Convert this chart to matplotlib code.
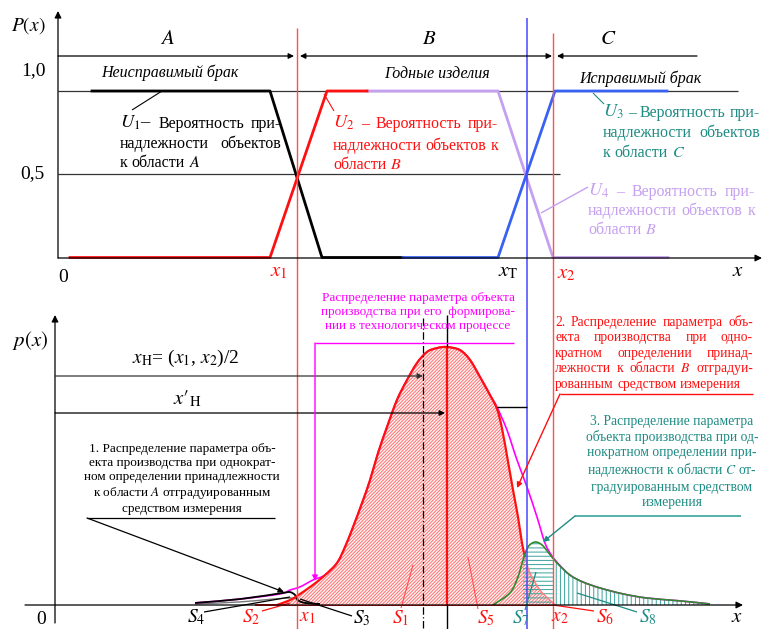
import numpy as np
import matplotlib
matplotlib.use("Agg")
import matplotlib.pyplot as plt
from matplotlib.patches import Rectangle, PathPatch
from matplotlib.path import Path

plt.rcParams['font.family'] = ['Liberation Serif', 'DejaVu Serif']
plt.rcParams['mathtext.fontset'] = 'stix'
plt.rcParams['hatch.linewidth'] = 0.7

# ---------------------------------------------------------------- data
# boundaries on the parameter axis
x1, xT, x2 = 297, 527, 553
x_mode, x_mid = 447, 423

# membership functions U1..U4: parameter x and probability P(x)
u1_x = [92, 270, 322, 403];   u1_p = [1, 1, 0, 0]
u2_x = [70, 270, 327, 367];   u2_p = [0, 0, 1, 1]
u3_x = [403, 498, 555, 667];  u3_p = [0, 0, 1, 1]
u4_x = [367, 498, 553, 668];  u4_p = [1, 1, 0, 0]

# density of the parameter in the technological process (magenta)
proc_x = [195, 240, 280, 290, 300, 313, 325, 337, 345, 353, 362, 370, 378, 387,
          397, 407, 417, 427, 437, 447, 460, 470, 480, 490, 497, 507, 517, 527,
          537, 545, 552, 560, 570, 583, 600, 623, 647, 680, 710]
proc_p = [0.008, 0.023, 0.043, 0.058, 0.070, 0.097, 0.116, 0.163, 0.225, 0.302,
          0.395, 0.484, 0.589, 0.690, 0.795, 0.872, 0.938, 0.981, 0.996, 1.000,
          0.988, 0.950, 0.884, 0.814, 0.767, 0.678, 0.562, 0.457, 0.341, 0.240,
          0.190, 0.153, 0.116, 0.089, 0.066, 0.043, 0.027, 0.016, 0.004]

# distribution 2 (region B)
b_x = [277, 290, 297, 313, 325, 337, 345, 353, 362, 370, 378, 387, 397, 407,
       417, 427, 437, 447, 460, 470, 480, 490, 497, 502, 508, 513, 518, 522,
       525, 530, 540, 550, 555]
b_p = [0.0, 0.019, 0.035, 0.078, 0.116, 0.163, 0.225, 0.302, 0.395, 0.484,
       0.589, 0.690, 0.795, 0.872, 0.938, 0.981, 0.996, 1.000, 0.988, 0.950,
       0.884, 0.814, 0.760, 0.684, 0.556, 0.446, 0.341, 0.240, 0.186, 0.124,
       0.058, 0.019, 0.0]

# distribution 3 (region C)
c_x = [493, 510, 518, 523, 528, 535, 542, 548, 557, 570, 583, 600, 623, 647, 680, 710]
c_p = [0.0, 0.047, 0.109, 0.174, 0.225, 0.244, 0.233, 0.205, 0.163, 0.116,
       0.089, 0.066, 0.043, 0.027, 0.016, 0.004]

# distribution 1 (region A)
a_x = [195, 240, 283, 290, 295, 298, 305, 320]
a_p = [0.008, 0.023, 0.047, 0.050, 0.039, 0.019, 0.008, 0.004]
a2_x = [195, 240, 290, 300, 320]
a2_p = [0.004, 0.012, 0.027, 0.012, 0.002]

# ---------------------------------------------------------------- colours
RED = '#ff1010'
RED_L = '#ff5050'
BLUE = '#3a62f2'
BLUE_V = '#4848ff'
LILAC = '#c6a0f0'
TEAL = '#1e8c84'
TEAL_H = '#3aa39c'
MAG = '#ff00ff'
GREEN = '#2e8b2e'

# ---------------------------------------------------------------- figure
W, H = 762, 629
fig = plt.figure(figsize=(W / 100, H / 100), dpi=100)

TOP = 290
ta = fig.add_axes([0, 1 - TOP / H, 1, TOP / H], zorder=1)
ta.set_xlim(0, W)
row0, row1 = 257.5, 91.0
sc = row0 - row1
ta.set_ylim((row0 - TOP) / sc, row0 / sc)
ta.axis('off')

ba = fig.add_axes([0, 0, 1, (H - TOP) / H], zorder=2)
ba.set_xlim(0, W)
brow0, brow1 = 605.0, 347.0
bsc = brow0 - brow1
ba.set_ylim((brow0 - H) / bsc, (brow0 - TOP) / bsc)
ba.axis('off')
ba.patch.set_alpha(0)

# drawing layer in pixel units for labels, leaders and guide lines
ov = fig.add_axes([0, 0, 1, 1], zorder=3)
ov.set_xlim(0, W)
ov.set_ylim(H, 0)
ov.axis('off')
ov.patch.set_alpha(0)


def arrow(ax, start, tip, color='black', lw=0.9, style='-|>', ms=9):
    ax.annotate('', xy=tip, xytext=start,
                arrowprops=dict(arrowstyle=style, color=color, lw=lw,
                                mutation_scale=ms, shrinkA=0, shrinkB=0))


def line(ax, xs, ys, color='black', lw=0.9, **kw):
    ax.plot(xs, ys, color=color, lw=lw, solid_capstyle='butt', **kw)


def curve_path(xs, ys, close_to_base=False):
    """Smooth cubic path through the given points (Catmull-Rom tangents)."""
    xs = np.asarray(xs, float)
    ys = np.asarray(ys, float)
    tx, ty = np.gradient(xs), np.gradient(ys)
    verts = [(xs[0], ys[0])]
    codes = [Path.MOVETO]
    for i in range(len(xs) - 1):
        verts += [(xs[i] + tx[i] / 3, ys[i] + ty[i] / 3),
                  (xs[i + 1] - tx[i + 1] / 3, ys[i + 1] - ty[i + 1] / 3),
                  (xs[i + 1], ys[i + 1])]
        codes += [Path.CURVE4] * 3
    if close_to_base:
        verts += [(xs[-1], 0), (xs[0], 0), (xs[0], ys[0])]
        codes += [Path.LINETO, Path.LINETO, Path.CLOSEPOLY]
    return Path(verts, codes)


def curve(ax, xs, ys, color, lw, z):
    ax.add_patch(PathPatch(curve_path(xs, ys), facecolor='none',
                           edgecolor=color, lw=lw, zorder=z))


def hatched(ax, xs, ys, color, hatch, z, clip=None, face='none'):
    p = PathPatch(curve_path(xs, ys, True), facecolor=face, edgecolor=color,
                  hatch=hatch, lw=0, zorder=z)
    ax.add_patch(p)
    if clip is not None:
        p.set_clip_path(Rectangle((clip[0], -0.2), clip[1] - clip[0], 1.5,
                                  transform=ax.transData))


renderer = fig.canvas.get_renderer()


def justified(ax, lines, x_left, x_right, baselines, color, size):
    for i, (txt, yb) in enumerate(zip(lines, baselines)):
        words = txt.split()
        sizes = [size * 1.15 if w.startswith('$U') else size for w in words]
        if i == len(lines) - 1 or len(words) == 1:
            x = x_left
            for w, s in zip(words, sizes):
                t = ax.text(x, yb, w, color=color, fontsize=s, ha='left', va='baseline')
                x += t.get_window_extent(renderer).width + size * 0.35
            continue
        items = [ax.text(0, yb, w, color=color, fontsize=s, ha='left', va='baseline')
                 for w, s in zip(words, sizes)]
        widths = [t.get_window_extent(renderer).width for t in items]
        gap = (x_right - x_left - sum(widths)) / (len(words) - 1)
        x = x_left
        for t, w in zip(items, widths):
            t.set_x(x)
            x += w + gap


# ================================================================ top panel
arrow(ov, (58, 258), (58, 11), ms=10)
arrow(ov, (58, 258), (762, 258), ms=10)
ov.text(28, 26, '$P(x)$', fontsize=14, ha='center', va='center')
ov.text(33, 71, '1,0', fontsize=14, ha='center', va='center')
ov.text(32, 174, '0,5', fontsize=14, ha='center', va='center')
ov.text(63, 277, '0', fontsize=14, ha='center', va='center')
ov.text(738, 272, '$x$', fontsize=15, ha='center', va='center')

# region arrows
arrow(ov, (58, 56), (x1 - 3, 56), ms=8)
arrow(ov, (x1 + 3, 56), (x2 - 1, 56), style='<|-|>', ms=8)
arrow(ov, (697, 56), (x2 + 4, 56), ms=8)
ov.text(167, 39, '$A$', fontsize=15, ha='center', va='center')
ov.text(429, 39, '$B$', fontsize=15, ha='center', va='center')
ov.text(608, 39, '$C$', fontsize=15, ha='center', va='center')

ov.text(170, 73, 'Неисправимый брак', fontsize=11.5, style='italic',
        ha='center', va='center')
ov.text(437, 74, 'Годные изделия', fontsize=11.5, style='italic',
        ha='center', va='center')
ov.text(640, 79, 'Исправимый брак', fontsize=11.5, style='italic',
        ha='center', va='center')

# reference levels
line(ta, [58, 738], [1, 1], color='#333333', lw=0.9)
line(ta, [58, 560], [0.5, 0.5], color='#333333', lw=0.9)

# membership functions
ta.plot(u1_x, u1_p, color='black', lw=2.0, zorder=3)
ta.plot(u3_x, u3_p, color=BLUE, lw=2.0, zorder=4)
ta.plot(u4_x, u4_p, color=LILAC, lw=2.0, zorder=3)
ta.plot(u2_x, u2_p, color=RED, lw=2.0, zorder=5)

# boundary lines through both panels
line(ov, [x1, x1], [28, H], color=RED_L, lw=1.0)
line(ov, [xT, xT], [18, H], color=BLUE_V, lw=1.1)
line(ov, [x2, x2], [33, H], color=RED_L, lw=1.0)
ov.text(279, 272, '$x_1$', fontsize=15, color=RED, ha='center', va='center')
ov.text(508, 272, r'$x_\mathrm{T}$', fontsize=15, ha='center', va='center')
ov.text(566, 274, '$x_2$', fontsize=15, color=RED, ha='center', va='center')

# membership annotations
line(ov, [132, 162], [110, 91], lw=0.8)
justified(ov, ['$U_1$– Вероятность при-', 'надлежности объектов',
               'к области $A$'], 120, 281, [128, 148, 167], 'black', 11.5)
line(ov, [334, 324], [111, 94], color=RED, lw=0.8)
justified(ov, ['$U_2$ – Вероятность при-', 'надлежности объектов к',
               'области $B$'], 333, 498, [128, 150, 169], RED, 11.5)
line(ov, [604, 593], [104, 93], color=TEAL, lw=0.8)
justified(ov, ['$U_3$ – Вероятность при-', 'надлежности объектов',
               'к области $C$'], 603, 760, [117, 137, 157], TEAL, 11.5)
line(ov, [588, 541], [187, 213], color=LILAC, lw=1.0)
justified(ov, ['$U_4$ – Вероятность при-', 'надлежности объектов к',
               'области $B$'], 588, 755, [196, 215, 234], LILAC, 11.5)

# ================================================================ bottom panel
arrow(ov, (55, 623), (55, 315), ms=10)
arrow(ov, (25, brow0), (743, brow0), ms=10)
ov.text(30, 340, '$p(x)$', fontsize=15, ha='center', va='center')
ov.text(41, 619, '0', fontsize=14, ha='center', va='center')
ov.text(737, 618, '$x$', fontsize=15, ha='center', va='center')

# nominal value markers (the mode line inside the curve is drawn in red below)
line(ov, [x_mode, x_mode], [315, brow1], color='black', lw=1.0)
line(ov, [x_mode, x_mode], [brow0, H], color='black', lw=1.0)
line(ov, [x_mid, x_mid], [318, H], color='black', lw=0.9, linestyle=(0, (6, 2, 1, 2)))
arrow(ov, (55, 376), (x_mid, 376), color='#333333', ms=8)
arrow(ov, (55, 413), (x_mode - 2, 413), ms=8)
line(ov, [497, xT], [407, 407], lw=1.0)
ov.text(186, 358, r'$x_\mathrm{H}$= ($x_1$, $x_2$)/2', fontsize=14,
        ha='center', va='center')
ov.text(187, 399, r"$x\prime_{\mathrm{H}}$", fontsize=15, ha='center', va='center')

# red baseline of distribution 2
line(ba, [255, x2], [0, 0], color=RED, lw=1.4)

# hatched areas
hatched(ba, b_x, b_p, '#ff7070', '//////////', 2, face='#fff4f4')
hatched(ba, c_x, c_p, TEAL_H, '----', 3, clip=(xT - 4, x2))
hatched(ba, c_x, c_p, TEAL_H, '||||', 3, clip=(x2, 760))

# curves
curve(ba, a2_x, a2_p, '#777777', 1.0, 4)
curve(ba, proc_x, proc_p, MAG, 1.2, 4)
curve(ba, a_x, a_p, 'black', 1.3, 5)
curve(ba, b_x[:29], b_p[:29], RED, 1.6, 5)
curve(ba, b_x[28:], b_p[28:], '#ff8080', 1.0, 5)
curve(ba, c_x, c_p, GREEN, 1.2, 6)
line(ba, [x_mode, x_mode], [0, 1.0], color=RED, lw=1.6)

# process distribution label
ov.text(418, 312, 'Распределение параметра объекта\n'
                  'производства при его  формирова-\n'
                  'нии в технологическом процессе',
        fontsize=9.5, color=MAG, ha='center', va='center', linespacing=1.25)
line(ov, [315, 514], [343, 343], color=MAG, lw=1.0)
arrow(ov, (315, 343), (315, 581), color=MAG, lw=1.0, ms=8)

# annotation 1
ov.text(182, 479, '1. Распределение параметра объ-\n'
                  'екта производства при однократ-\n'
                  'ном определении принадлежности\n'
                  'к области $A$ отградуированным\n'
                  'средством измерения',
        fontsize=9.5, ha='center', va='center', linespacing=1.22)
line(ov, [87, 275], [518, 518], lw=0.9)
arrow(ov, (87, 518), (284, 592), lw=0.9, ms=8)

# annotation 2
justified(ov, ['2. Распределение параметра объ-',
               'екта производства при одно-',
               'кратном определении принад-',
               'лежности к области $B$ отградуи-',
               'рованным средством измерения'],
          555, 753, [326, 341, 357, 372, 388], RED, 9.8)
line(ov, [560, 753], [394, 394], color=RED, lw=1.0)
arrow(ov, (560, 394), (517, 488), color=RED, lw=1.0, ms=8)

# annotation 3
ov.text(672, 462, '3. Распределение параметра\n'
                  'объекта производства при од-\n'
                  'нократном определении при-\n'
                  'надлежности к области $C$ от-\n'
                  'градуированным средством\n'
                  'измерения',
        fontsize=9.8, color=TEAL, ha='center', va='center', linespacing=1.2)
line(ov, [575, 741], [516, 516], color=TEAL_H, lw=1.2)
arrow(ov, (575, 516), (543, 542), color=TEAL, lw=1.0, ms=8)

# area labels with leaders
LY = 617
line(ov, [204, 290], [612, 597], lw=0.9)
ov.text(196, LY, '$S_4$', fontsize=14, ha='center', va='center')
line(ov, [262, 290], [611, 603], color=RED, lw=0.9)
ov.text(251, LY, '$S_2$', fontsize=14, color=RED, ha='center', va='center')
ov.text(307, LY, '$x_1$', fontsize=14, color=RED, ha='center', va='center')
line(ov, [352, 300], [616, 599], lw=0.9)
ov.text(362, LY + 1, '$S_3$', fontsize=14, ha='center', va='center')
line(ov, [401, 413], [608, 565], color=RED_L, lw=0.8)
ov.text(401, LY + 1, '$S_1$', fontsize=14, color=RED, ha='center', va='center')
line(ov, [478, 468], [609, 557], color=RED_L, lw=0.8)
ov.text(486, LY + 1, '$S_5$', fontsize=14, color=RED, ha='center', va='center')
line(ov, [525, 536], [610, 572], color=TEAL, lw=0.9)
ov.text(521, LY + 1, '$S_7$', fontsize=14, color=TEAL, ha='center', va='center')
ov.text(560, LY, '$x_2$', fontsize=14, color=RED, ha='center', va='center')
line(ov, [594, 553], [611, 605], color=RED, lw=0.9)
ov.text(605, LY, '$S_6$', fontsize=14, color=RED, ha='center', va='center')
line(ov, [637, 577], [612, 593], color=TEAL, lw=0.9)
ov.text(648, LY, '$S_8$', fontsize=14, color=TEAL, ha='center', va='center')

fig.savefig('out.png', dpi=100)
